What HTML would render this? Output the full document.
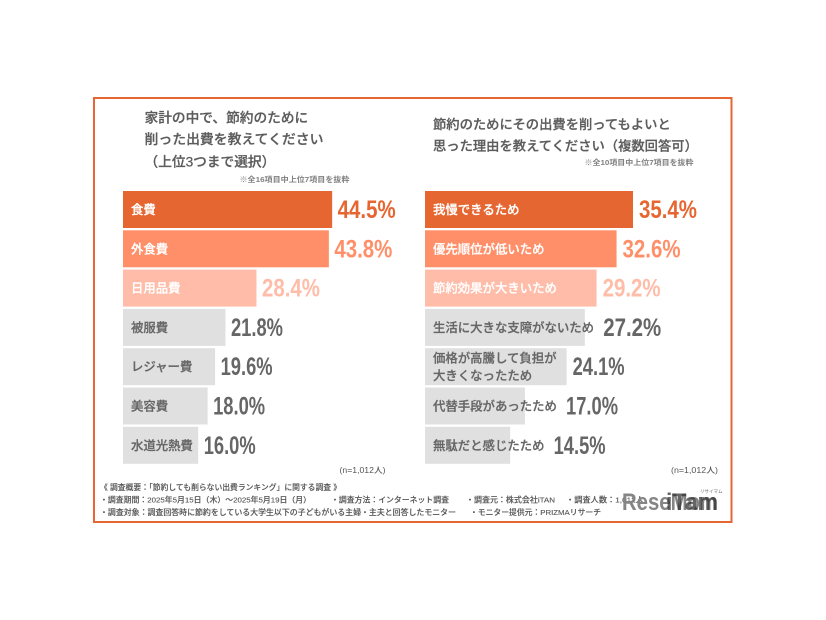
<!DOCTYPE html>
<html lang="ja">
<head>
<meta charset="utf-8">
<title>節約調査チャート</title>
<style>
html,body{margin:0;padding:0;background:#fff;}
#stage{display:block;width:826px;height:620px;}
text{font-family:"Liberation Sans","Noto Sans CJK JP",sans-serif;}
.jp{font-weight:500;fill:#5c5c5c;stroke:#5c5c5c;stroke-width:0.25px;}
.foot{font-size:7.7px;font-weight:500;fill:#555;stroke:#555;stroke-width:0.12px;}
.note{font-size:7.5px;font-weight:700;fill:#808080;}
.num{font-family:"Liberation Sans Narrow","Liberation Sans",sans-serif;font-size:25px;font-weight:700;}
.lbl{stroke-width:0.25px;}
</style>
</head>
<body>
<svg id="stage" xmlns="http://www.w3.org/2000/svg" width="826" height="620" viewBox="0 0 826 620">
  <rect x="0" y="0" width="826" height="620" fill="#fff"/>
  <rect x="94" y="98" width="637.5" height="424" fill="none" stroke="#e66734" stroke-width="2"/>

  <g>
    <text class="jp" x="144.5" y="122.5" font-size="13.7">家計の中で、節約のために</text>
    <text class="jp" x="144.5" y="144" font-size="13.7" textLength="179" lengthAdjust="spacingAndGlyphs">削った出費を教えてください</text>
    <text class="jp" x="144.5" y="166.5" font-size="13.7">（上位3つまで選択）</text>
  </g>
  <text class="note" x="239.5" y="182" textLength="110" lengthAdjust="spacingAndGlyphs">※全16項目中上位7項目を抜粋</text>

  <g>
    <text class="jp" x="433" y="129" font-size="13.3">節約のためにその出費を削ってもよいと</text>
    <text class="jp" x="433" y="150.5" font-size="13.3">思った理由を教えてください（複数回答可）</text>
  </g>
  <text class="note" x="584.5" y="165" textLength="109" lengthAdjust="spacingAndGlyphs">※全10項目中上位7項目を抜粋</text>

  <g id="left-chart"></g>
  <g id="right-chart"></g>

  <text x="339.5" y="473" font-size="8" font-weight="500" fill="#555" textLength="46" lengthAdjust="spacingAndGlyphs">(n=1,012人)</text>
  <text x="671" y="473" font-size="8" font-weight="500" fill="#555" textLength="47" lengthAdjust="spacingAndGlyphs">(n=1,012人)</text>

  <g>
    <text class="foot" x="100" y="490" textLength="241" lengthAdjust="spacingAndGlyphs">《 調査概要：「節約しても削らない出費ランキング」に関する調査 》</text>
    <text class="foot" x="100" y="502.5" textLength="211" lengthAdjust="spacingAndGlyphs">・調査期間：2025年5月15日（木）～2025年5月19日（月）</text>
    <text class="foot" x="331" y="502.5" textLength="118" lengthAdjust="spacingAndGlyphs">・調査方法：インターネット調査</text>
    <text class="foot" x="466" y="502.5" textLength="89" lengthAdjust="spacingAndGlyphs">・調査元：株式会社iTAN</text>
    <text class="foot" x="566" y="502.5" textLength="78" lengthAdjust="spacingAndGlyphs">・調査人数：1,012人</text>
    <text class="foot" x="100" y="515" textLength="356" lengthAdjust="spacingAndGlyphs">・調査対象：調査回答時に節約をしている大学生以下の子どもがいる主婦・主夫と回答したモニター</text>
    <text class="foot" x="470" y="515" textLength="131" lengthAdjust="spacingAndGlyphs">・モニター提供元：PRIZMAリサーチ</text>
  </g>

  <g>
    <text x="622" y="510" font-size="24" font-weight="700" fill="#858585" textLength="96" lengthAdjust="spacingAndGlyphs">ReseMom</text>
    <text x="666" y="510" font-size="24" font-weight="700" fill="#333" fill-opacity="0.75" textLength="52" lengthAdjust="spacingAndGlyphs">iTam</text>
    <text x="700" y="493" font-size="4.5" fill="#666">リサイマム</text>
  </g>
</svg>
<script>
const leftCategories = ['食費','外食費','日用品費','被服費','レジャー費','美容費','水道光熱費'];
const leftValues = [44.5,43.8,28.4,21.8,19.6,18.0,16.0];
const rightCategories = ['我慢できるため','優先順位が低いため','節約効果が大きいため','生活に大きな支障がないため','価格が高騰して負担が\n大きくなったため','代替手段があったため','無駄だと感じたため'];
const rightValues = [35.4,32.6,29.2,27.2,24.1,17.0,14.5];

const NS = 'http://www.w3.org/2000/svg';
const barFills = ['#e66632','#ff8f68','#ffbda9','#e0e0e0','#e0e0e0','#e0e0e0','#e0e0e0'];
const labelFills = ['#fff','#fff','#fff','#666','#666','#666','#666'];
const valueFills = ['#e66632','#ff8f68','#ffbda9','#666','#666','#666','#666'];

function rowTop(i){ return 191 + i * 39.3; }
const ROW_H = 37;
function leftX(v){ return v * 4.7; }
function rightX(v){ return v * 5.876; }

function drawChart(rootId, x0, scale, cats, vals, gap){
  const root = document.getElementById(rootId);
  cats.forEach(function(cat, i){
    const top = rowTop(i);
    const w = scale(vals[i]);
    const mid = top + ROW_H / 2;

    const bar = document.createElementNS(NS, 'rect');
    
    
    bar.setAttribute('x', x0);
    bar.setAttribute('y', top);
    bar.setAttribute('width', w);
    bar.setAttribute('height', ROW_H);
    bar.setAttribute('fill', barFills[i]);
    root.appendChild(bar);

    const lines = cat.split('\n');
    let maxEnd = 0;
    lines.forEach(function(line, k){
      const label = document.createElementNS(NS, 'text');
      
      
      label.setAttribute('class', 'lbl');
      label.setAttribute('x', x0 + 8);
      label.setAttribute('y', mid + 4.5 + (k - (lines.length - 1) / 2) * 17.4);
      label.setAttribute('font-size', '12.4');
      label.setAttribute('font-weight', '500');
      label.setAttribute('fill', labelFills[i]);
      label.setAttribute('stroke', labelFills[i]);
      label.textContent = line;
      root.appendChild(label);
      maxEnd = Math.max(maxEnd, x0 + 8 + line.length * 12.4);
    });

    const valueText = vals[i].toFixed(1) + '%';
    const ones = valueText.split('1').length - 1;
    const num = document.createElementNS(NS, 'text');
    
    
    num.setAttribute('class', 'num');
    num.setAttribute('x', Math.max(x0 + w + gap, maxEnd + 9));
    num.setAttribute('y', mid + 8.5);
    num.setAttribute('fill', valueFills[i]);
    num.setAttribute('textLength', 58 - ones * 6);
    num.setAttribute('lengthAdjust', 'spacingAndGlyphs');
    num.textContent = valueText;
    root.appendChild(num);
  });
}

drawChart('left-chart', 123, leftX, leftCategories, leftValues, 5.5);
drawChart('right-chart', 425, rightX, rightCategories, rightValues, 6);
</script>
</body>
</html>
